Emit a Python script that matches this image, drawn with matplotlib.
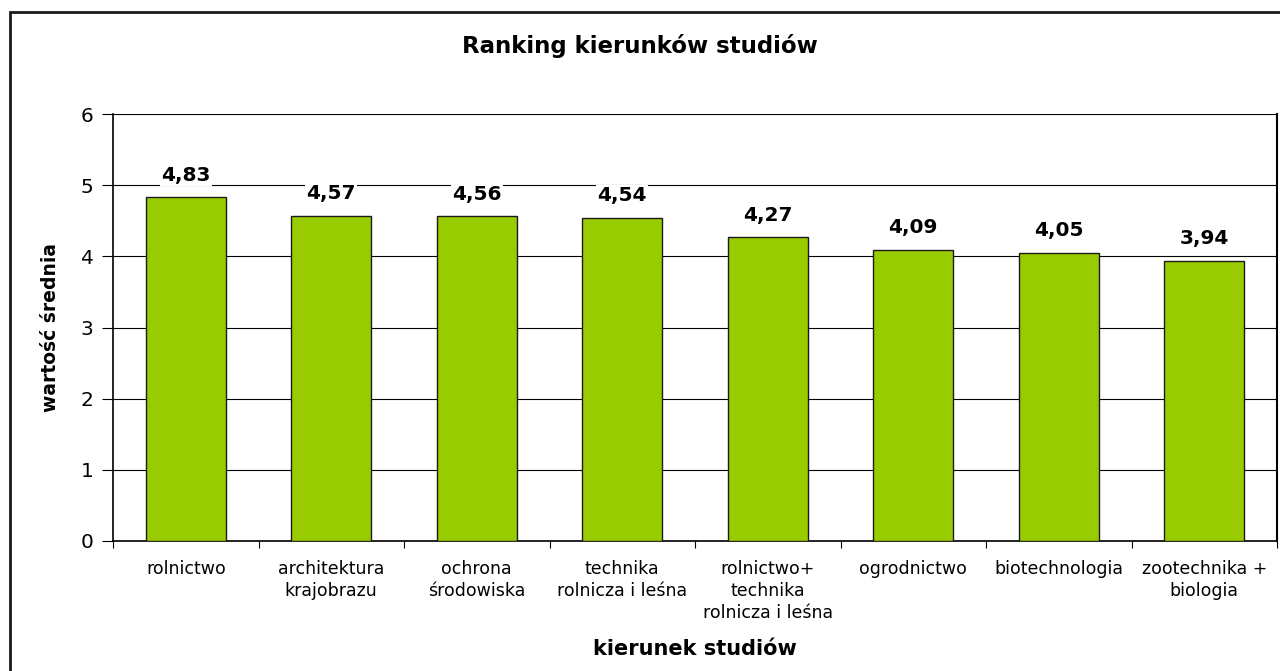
import matplotlib.pyplot as plt
from matplotlib.patches import Rectangle

# reference text is wide (stretched Arial) - DejaVu Sans fits the footprint better
plt.rcParams['font.family'] = ['DejaVu Sans']

# data
kierunki = ["rolnictwo", "architektura\nkrajobrazu", "ochrona\nśrodowiska",
            "technika\nrolnicza i leśna", "rolnictwo+\ntechnika\nrolnicza i leśna",
            "ogrodnictwo", "biotechnologia", "zootechnika +\nbiologia"]
srednia = [4.83, 4.57, 4.56, 4.54, 4.27, 4.09, 4.05, 3.94]
etykiety = ["4,83", "4,57", "4,56", "4,54", "4,27", "4,09", "4,05", "3,94"]

fig = plt.figure(figsize=(12.8, 6.71), dpi=100)
ax = fig.add_axes([113 / 1280, 1 - 541 / 671, (1277 - 113) / 1280, (541 - 114) / 671])

# chart area border (only top and left visible in the reference)
fig.add_artist(Rectangle((10 / 1280, -0.05), 1.2, 1 - 12 / 671 + 0.05,
                         transform=fig.transFigure, fill=False,
                         edgecolor="#1a1a1a", linewidth=2))

x = range(len(kierunki))
ax.bar(x, srednia, width=0.55, color="#99cc00", edgecolor="#1a1a1a",
       linewidth=1, zorder=3)

for i, (v, t) in enumerate(zip(srednia, etykiety)):
    ax.annotate(t, (i, v), xytext=(0, 9), textcoords="offset points",
                ha="center", va="bottom", fontsize=14.5, fontweight="bold",
                bbox=dict(facecolor="white", edgecolor="none", pad=1),
                zorder=4)

ax.set_ylim(0, 6)
ax.set_xlim(-0.5, len(kierunki) - 0.5)
ax.set_yticks(range(7))
ax.yaxis.grid(True, color="black", linewidth=0.8, zorder=0)
ax.tick_params(axis="y", labelsize=14.5, length=8, width=0.8, pad=6)

ax.set_xticks(x)
ax.set_xticklabels(kierunki, fontsize=12.5, linespacing=1.28)
ax.tick_params(axis="x", length=0, pad=14)
ax.set_xticks([i + 0.5 for i in range(-1, len(kierunki))], minor=True)
ax.tick_params(axis="x", which="minor", length=5, width=0.8)

ax.spines["top"].set_visible(False)
ax.spines["left"].set_linewidth(1.2)
ax.spines["bottom"].set_linewidth(1.2)
ax.spines["right"].set_linewidth(1.5)

ax.set_ylabel("wartość średnia", fontsize=13.5, fontweight="bold", labelpad=15)
ax.set_xlabel("kierunek studiów", fontsize=15, fontweight="bold", labelpad=12)
fig.text(0.5, 1 - 53 / 671, "Ranking kierunków studiów", ha="center",
         va="baseline", fontsize=16.5, fontweight="bold")

fig.savefig("out.png", dpi=100)
